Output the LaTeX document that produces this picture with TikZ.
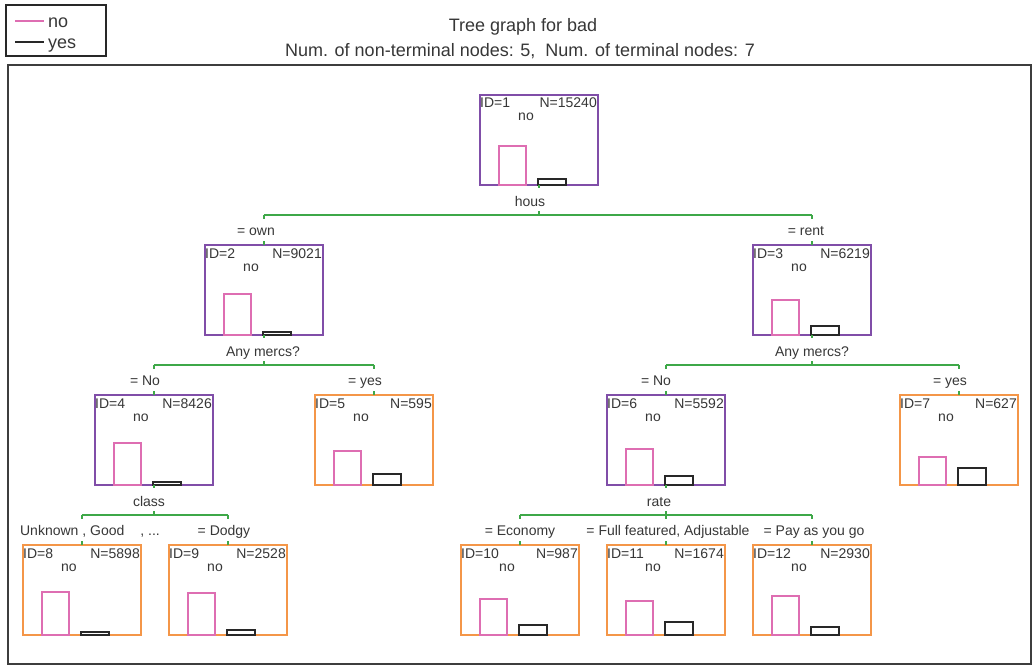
\documentclass[tikz,border=0pt]{standalone}
\usepackage{fontspec}
\setmainfont{Liberation Sans}
\usetikzlibrary{calc}
\definecolor{tx}{RGB}{55,55,55}
\definecolor{purp}{RGB}{128,78,168}
\definecolor{orng}{RGB}{244,150,72}
\definecolor{pinkc}{RGB}{222,110,178}
\definecolor{grn}{RGB}{62,168,72}
\definecolor{blk}{RGB}{40,40,40}
\tikzset{
  tbox/.style={draw, line width=1.3pt, minimum width=118pt, minimum height=90pt, inner sep=0pt, outer sep=0pt},
  nt/.style={text=tx, inner sep=0pt, font=\fontsize{14}{16}\selectfont},
  bigt/.style={text=tx, inner sep=0pt, font=\fontsize{18}{20}\selectfont},
  pinkbar/.style={draw=pinkc, line width=1.1pt},
  blackbar/.style={draw=blk, line width=1.1pt},
  spl/.style={draw=grn, line width=1.1pt},
}
\newcommand\tnode[8]{%
  \node[tbox, draw=#8] (#1) at (#2,#3+45) {};
  \node[nt, anchor=base west] (#1i) at ($(#1.north west)+(0,13)$) {ID=#4};
  \node[nt, anchor=base east] (#1n) at ($(#1.north east)+(-1,13)$) {N=#5};
  \node[nt, anchor=base] (#1c) at ($(#1.north west)+(46,26)$) {no};
  \draw[pinkbar] ($(#1.south west)+(19,0)$) rectangle ++(27,-#6);
  \draw[blackbar] ($(#1.south west)+(58,0)$) rectangle ++(28,-#7);
}
% parent, left child, right child, label, label dx
\newcommand\splitat[5]{%
  \coordinate (#1s) at ($(#1.south)+(0,30)$);
  \node[nt, anchor=base] (#1l) at ($(#1.south)+(#5,21)$) {#4};
  \draw[spl] (#1.south) -- ++(0,3);
  \draw[spl] (#1s) -- ++(0,-4);
  \draw[spl] (#2.north |- #1s) -- (#3.north |- #1s);
  \draw[spl] (#2.north |- #1s) -- ++(0,4);
  \draw[spl] (#3.north |- #1s) -- ++(0,4);
}
% child, label, dx
\newcommand\branch[3]{%
  \node[nt, anchor=base] (#1b) at ($(#1.north)+(#3,-10)$) {#2};
  \draw[spl] (#1.north) -- ++(0,-4);
}
\begin{document}
\begin{tikzpicture}[x=1pt,y=-1pt]
\useasboundingbox (0,0) rectangle (1036,666);
\fill[white] (0,0) rectangle (1036,666);
% legend
\node[draw=blk, line width=1.2pt, minimum width=100pt, minimum height=51pt, anchor=north west, inner sep=0pt, outer sep=0pt] (leg) at (6,5) {};
\coordinate (lg1) at (15,21);
\coordinate (lg2) at (15,42);
\draw[draw=pinkc, line width=1.1pt] (lg1) -- ++(29,0);
\draw[draw=blk, line width=1.1pt] (lg2) -- ++(29,0);
\node[bigt, anchor=base west] (legno) at (48,28) {no};
\node[bigt, anchor=base west] (legyes) at (48,49) {yes};
% title
\node[bigt, anchor=base] (t1) at (523,32) {Tree graph for bad};
\node[bigt, anchor=base] (t2) at (520,57) {Num. of non-terminal nodes: 5,~ Num. of terminal nodes: 7};
% frame
\draw[draw=blk!90, line width=1.5pt] (8,65) rectangle (1031,664);
% nodes
\tnode{n1}{539}{95}{1}{15240}{39}{6}{purp}
\tnode{n2}{264}{245}{2}{9021}{41}{3}{purp}
\tnode{n3}{812}{245}{3}{6219}{35}{9}{purp}
\tnode{n4}{154}{395}{4}{8426}{42}{3}{purp}
\tnode{n5}{374}{395}{5}{595}{34}{11}{orng}
\tnode{n6}{666}{395}{6}{5592}{36}{9}{purp}
\tnode{n7}{959}{395}{7}{627}{28}{17}{orng}
\tnode{n8}{82}{545}{8}{5898}{43}{3}{orng}
\tnode{n9}{228}{545}{9}{2528}{42}{5}{orng}
\tnode{n10}{520}{545}{10}{987}{36}{10}{orng}
\tnode{n11}{666}{545}{11}{1674}{34}{13}{orng}
\tnode{n12}{812}{545}{12}{2930}{39}{8}{orng}
% splits
\splitat{n1}{n2}{n3}{hous}{-9}
\splitat{n2}{n4}{n5}{Any mercs?}{-1}
\splitat{n3}{n6}{n7}{Any mercs?}{0}
\splitat{n4}{n8}{n9}{class}{-5}
\splitat{n6}{n10}{n12}{rate}{-7}
\draw[spl] (n11.north |- n6s) -- ++(0,4);
% branch labels
\branch{n2}{= own}{-8}
\branch{n3}{= rent}{-6}
\branch{n4}{= No}{-9}
\branch{n5}{= yes}{-9}
\branch{n6}{= No}{-10}
\branch{n7}{= yes}{-9}
\branch{n8}{Unknown , Good\hspace{16pt}, ...}{8}
\branch{n9}{= Dodgy}{-4}
\branch{n10}{= Economy}{0}
\branch{n11}{= Full featured, Adjustable}{2}
\branch{n12}{= Pay as you go}{2}
\end{tikzpicture}
\end{document}
